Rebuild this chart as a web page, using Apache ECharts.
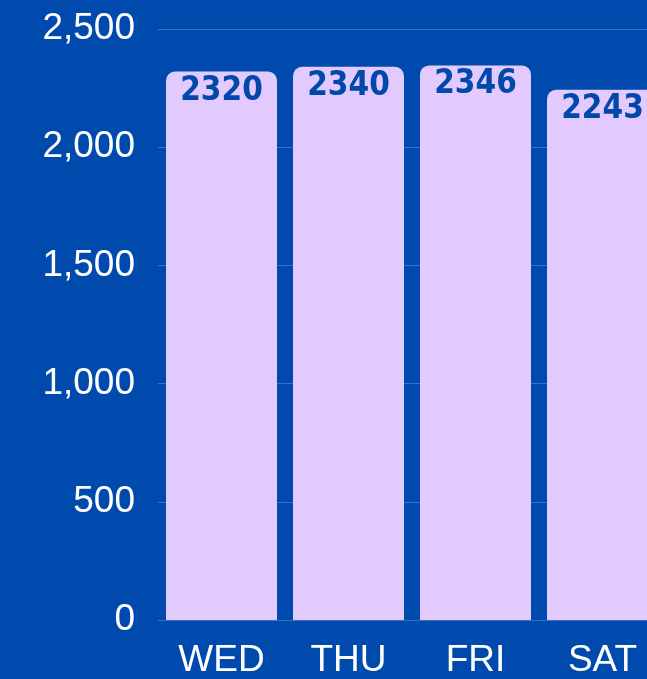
<!DOCTYPE html>
<html>
<head>
<meta charset="utf-8">
<script src="https://cdn.jsdelivr.net/npm/echarts@6/dist/echarts.min.js"></script>
<style>
  html, body { margin: 0; padding: 0; background: #004AAD; overflow: hidden; }
  #main { width: 666px; height: 679px; }
</style>
</head>
<body>
<div id="main"></div>
<script>
// daily values
var days = ['WED', 'THU', 'FRI', 'SAT'];
var counts = [2320, 2340, 2346, 2243];
var yTicks = [0, 500, 1000, 1500, 2000, 2500];

(function () {
    // chart is a bit wider than the window, SAT bar runs off the edge
    var myChart = echarts.init(document.getElementById('main'));

    var option = {
        backgroundColor: '#004AAD',
        animation: false,
        grid: {
            left: 158,
            right: 0,
            top: 29,
            bottom: 57
        },
        xAxis: {
            type: 'category',
            data: days,
            axisLine: { show: false },
            axisTick: { show: false },
            axisLabel: {
                color: '#ffffff',
                fontFamily: 'Liberation Sans',
                fontSize: 37,
                margin: 22
            }
        },
        yAxis: {
            type: 'value',
            min: yTicks[0],
            max: yTicks[yTicks.length - 1],
            interval: 500,
            axisLine: { show: false },
            axisTick: { show: false },
            axisLabel: {
                color: '#ffffff',
                fontFamily: 'Liberation Sans',
                fontSize: 37,
                margin: 23,
                formatter: function (v) {
                    return v.toLocaleString('en-US');
                }
            },
            splitLine: {
                lineStyle: { color: 'rgba(255,255,255,0.22)', width: 1 }
            }
        },
        series: [
            {
                type: 'bar',
                data: counts,
                barCategoryGap: '12.6%',
                itemStyle: {
                    color: '#E3CAFE',
                    borderRadius: [9, 9, 0, 0]
                },
                label: {
                    show: true,
                    position: 'insideTop',
                    distance: 3,
                    color: '#0048AA',
                    fontFamily: 'DejaVu Sans Condensed',
                    fontWeight: 'bold',
                    fontSize: 33
                }
            }
        ]
    };
    myChart.setOption(option);
})();
</script>
</body>
</html>
